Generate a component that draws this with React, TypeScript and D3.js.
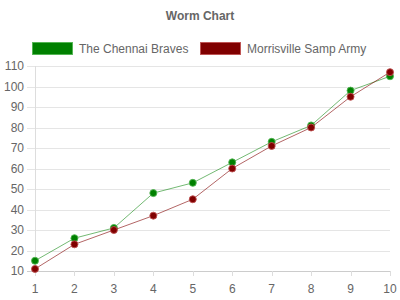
import React from "react";
import * as d3 from "d3";

const overs = [1, 2, 3, 4, 5, 6, 7, 8, 9, 10];
const chennai = [15, 26, 31, 48, 53, 63, 73, 81, 98, 105];
const morrisville = [11, 23, 30, 37, 45, 60, 71, 80, 95, 107];
const yTicks = [10, 20, 30, 40, 50, 60, 70, 80, 90, 100, 110];
const seriesNames = ["The Chennai Braves", "Morrisville Samp Army"];

const W = 400, H = 300;
const font = "'Liberation Sans', Arial, Helvetica, sans-serif";

export default function App() {
  const x = d3.scaleLinear().domain([1, 10]).range([35, 390]);
  const y = d3.scaleLinear().domain([10, 110]).range([271, 66]);
  const line = d3.line<number>().x((_, i) => x(overs[i])).y((d) => y(d));
  const series = [
    { name: seriesNames[0], data: chennai, fill: "#008000", stroke: "rgba(0,128,0,0.55)", box: "#008000", boxStroke: "rgba(80,180,80,0.9)" },
    { name: seriesNames[1], data: morrisville, fill: "#800000", stroke: "rgba(128,0,0,0.6)", box: "#800000", boxStroke: "rgba(190,80,80,0.9)" },
  ];
  const legendX = [32, 200];
  return (
    <svg width={W} height={H} style={{ position: "absolute", left: 0, top: 0, background: "#fff" }} fontFamily={font}>
      <text x={200} y={20} textAnchor="middle" fontSize={12} fontWeight="bold" fill="#666">Worm Chart</text>
      {series.map((s, i) => (
        <g key={s.name}>
          <rect x={legendX[i] + 0.5} y={42.5} width={40} height={12} fill={s.box} stroke={s.boxStroke} />
          <text x={legendX[i] + 47} y={52.5} fontSize={12} fill="#666">{s.name}</text>
        </g>
      ))}
      {yTicks.map((t) => (
        <g key={t}>
          <line x1={27} x2={390} y1={Math.round(y(t)) + 0.5} y2={Math.round(y(t)) + 0.5} stroke={t === 10 ? "#ccc" : "#e5e5e5"} />
          <text x={24} y={y(t) + 4} textAnchor="end" fontSize={12} fill="#666">{t}</text>
        </g>
      ))}
      <line x1={35.5} x2={35.5} y1={66} y2={276} stroke="#ddd" />
      {overs.map((o) => (
        <g key={o}>
          <line x1={Math.round(x(o)) + 0.5} x2={Math.round(x(o)) + 0.5} y1={271} y2={276} stroke="#ddd" />
          <text x={x(o)} y={293} textAnchor="middle" fontSize={12} fill="#666">{o}</text>
        </g>
      ))}
      {series.map((s) => (
        <g key={s.name}>
          <path d={line(s.data) || ""} fill="none" stroke={s.stroke} strokeWidth={1} />
          {s.data.map((v, i) => (
            <circle key={i} cx={x(overs[i])} cy={y(v)} r={3.5} fill={s.fill} stroke={s.boxStroke} strokeWidth={1} />
          ))}
        </g>
      ))}
    </svg>
  );
}
